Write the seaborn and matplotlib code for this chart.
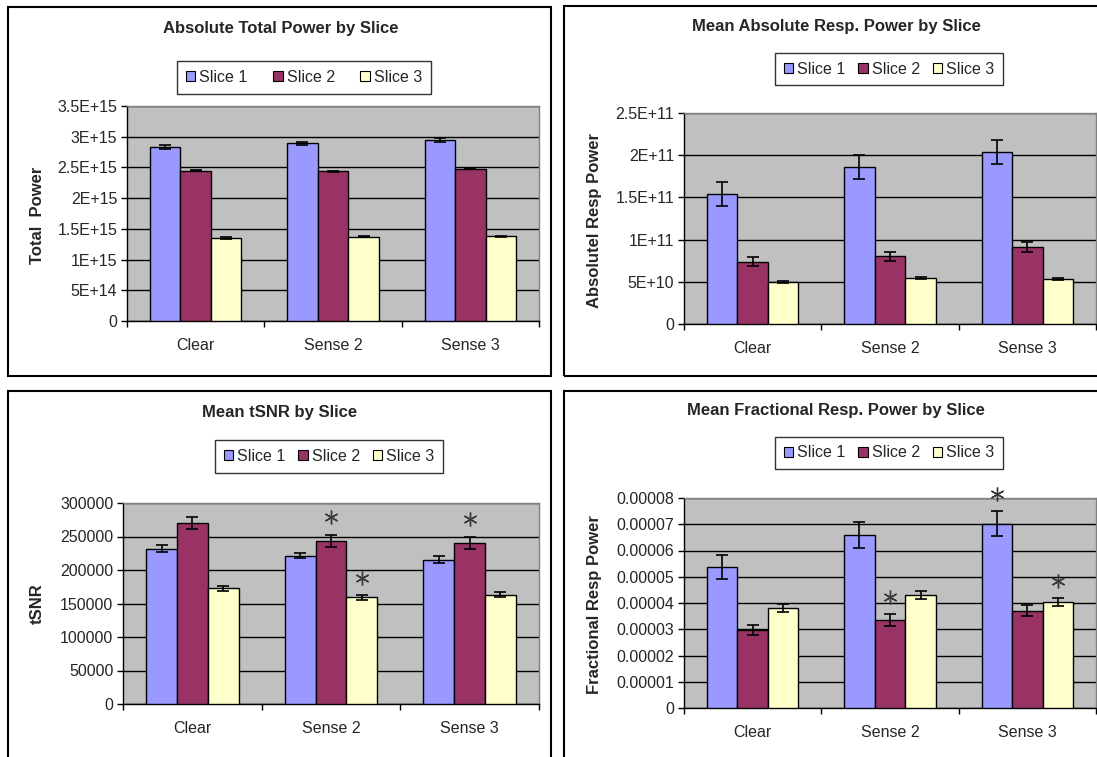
import matplotlib
matplotlib.use("Agg")
import matplotlib.pyplot as plt
import matplotlib.transforms as mtransforms
from matplotlib.container import BarContainer
from matplotlib.patches import Patch, Rectangle
import numpy as np
import pandas as pd
import seaborn as sns

# ---- data -------------------------------------------------------------
conditions = ["Clear", "Sense 2", "Sense 3"]
slices = ["Slice 1", "Slice 2", "Slice 3"]

# Absolute total power (rows: slice, cols: condition)
total_mean = [[2.83e15, 2.89e15, 2.95e15],
              [2.45e15, 2.44e15, 2.48e15],
              [1.35e15, 1.37e15, 1.38e15]]
total_err = [[0.03e15, 0.03e15, 0.03e15],
             [0.01e15, 0.01e15, 0.01e15],
             [0.01e15, 0.01e15, 0.01e15]]

# Mean absolute respiratory power
abs_mean = [[1.54e11, 1.86e11, 2.04e11],
            [0.74e11, 0.80e11, 0.91e11],
            [0.50e11, 0.545e11, 0.53e11]]
abs_err = [[1.45e10, 1.45e10, 1.45e10],
           [0.5e10, 0.5e10, 0.57e10],
           [0.15e10, 0.12e10, 0.12e10]]

# Mean tSNR
tsnr_mean = [[231500, 221500, 215500],
             [269500, 243500, 241000],
             [173000, 159000, 163000]]
tsnr_err = [[5200, 3500, 4700],
            [9000, 9000, 9000],
            [3700, 3500, 3500]]

# Mean fractional respiratory power
frac_mean = [[5.37e-5, 6.58e-5, 7.02e-5],
             [2.98e-5, 3.36e-5, 3.71e-5],
             [3.81e-5, 4.29e-5, 4.04e-5]]
frac_err = [[0.46e-5, 0.50e-5, 0.48e-5],
            [0.20e-5, 0.22e-5, 0.22e-5],
            [0.15e-5, 0.15e-5, 0.15e-5]]

# significance marks: (condition index, slice index)
tsnr_marks = [(1, 1), (1, 2), (2, 1)]
frac_marks = [(1, 1), (2, 0), (2, 2)]

total_ticks = ["0", "5E+14", "1E+15", "1.5E+15", "2E+15", "2.5E+15", "3E+15", "3.5E+15"]
abs_ticks = ["0", "5E+10", "1E+11", "1.5E+11", "2E+11", "2.5E+11"]
tsnr_ticks = ["0", "50000", "100000", "150000", "200000", "250000", "300000"]
frac_ticks = ["0", "0.00001", "0.00002", "0.00003", "0.00004", "0.00005",
              "0.00006", "0.00007", "0.00008"]

# ---- style ------------------------------------------------------------
sns.set_style("white")
plt.rcParams["font.family"] = ["Liberation Sans", "DejaVu Sans"]

palette = ["#9999FF", "#993366", "#FFFFCC"]
W, H = 1097, 757
fig = plt.figure(figsize=(W / 100, H / 100), dpi=100)
fig.patch.set_facecolor("white")


def fx(px):
    return px / W


def fy(py):
    return 1 - py / H


def long_frame(means):
    rows = []
    for si, s in enumerate(slices):
        for ci, c in enumerate(conditions):
            rows.append({"condition": c, "slice": s, "value": means[si][ci]})
    return pd.DataFrame(rows)


def panel(box, plot, title, title_xy, ylabel, ylabel_xy, legend_xy, colspace,
          means, errs, ymax, step, ticklabels, marks=None):
    # chart frame
    bx0, by0, bx1, by1 = box
    fig.patches.append(Rectangle((fx(bx0), fy(by1)), fx(bx1 - bx0), (by1 - by0) / H,
                                 transform=fig.transFigure, fill=False,
                                 edgecolor="black", linewidth=1.5, zorder=0))
    l, t, r, b = plot
    ax = fig.add_axes([fx(l), fy(b), fx(r - l), (b - t) / H])
    ax.set_facecolor("#C0C0C0")

    df = long_frame(means)
    sns.barplot(data=df, x="condition", y="value", hue="slice", palette=palette,
                width=0.667, edgecolor="black", linewidth=1.0, errorbar=None,
                saturation=1, legend=False, ax=ax, zorder=3)

    bar_groups = [c for c in ax.containers if isinstance(c, BarContainer)]
    centers = [[bar.get_x() + bar.get_width() / 2 for bar in cont] for cont in bar_groups]

    for si in range(len(slices)):
        for ci in range(len(conditions)):
            ax.errorbar(centers[si][ci], means[si][ci], yerr=errs[si][ci], fmt="none",
                        ecolor="black", elinewidth=1.2, capsize=4.5,
                        capthick=1.2, zorder=4)

    if marks:
        lift = ax.transData + mtransforms.ScaledTranslation(0, 12.5 / 72,
                                                            fig.dpi_scale_trans)
        for ci, si in marks:
            top = means[si][ci] + errs[si][ci]
            ax.plot([centers[si][ci]], [top], linestyle="none", marker=(6, 2, 0),
                    markersize=10, markeredgewidth=1.0, color="#3a3a3a",
                    zorder=5, clip_on=False, transform=lift)

    ax.set_xlim(-0.5, 2.5)
    ax.set_ylim(0, ymax)
    yt = np.arange(0, ymax + step / 2, step)
    ax.set_yticks(yt)
    ax.set_yticklabels(ticklabels)
    ax.yaxis.grid(True, color="black", linewidth=1.0)
    ax.set_axisbelow(True)
    ax.set_xlabel("")
    ax.set_ylabel("")

    ax.set_xticks([0, 1, 2])
    ax.set_xticklabels(conditions)
    ax.set_xticks([-0.5, 0.5, 1.5, 2.5], minor=True)
    ax.tick_params(axis="x", which="major", length=0, pad=12, labelsize=11.5)
    ax.tick_params(axis="x", which="minor", length=4, width=1, color="black",
                   direction="out", bottom=True)
    ax.tick_params(axis="y", length=4, width=1, color="black", direction="out",
                   pad=3, labelsize=11.5, left=True)

    for side in ("left", "bottom"):
        ax.spines[side].set_color("black")
        ax.spines[side].set_linewidth(1.0)
    for side in ("top", "right"):
        ax.spines[side].set_visible(True)
        ax.spines[side].set_color("#808080")
        ax.spines[side].set_linewidth(1.0)

    fig.text(fx(title_xy[0]), fy(title_xy[1]), title, ha="center", va="center",
             fontsize=12, fontweight="bold")
    fig.text(fx(ylabel_xy[0]), fy(ylabel_xy[1]), ylabel, ha="center", va="center",
             rotation=90, fontsize=12, fontweight="bold")

    handles = [Patch(facecolor=c, edgecolor="black", linewidth=0.8) for c in palette]
    leg = fig.legend(handles, slices, loc="center",
                     bbox_to_anchor=(fx(legend_xy[0]), fy(legend_xy[1])),
                     ncol=3, fontsize=11.5, frameon=True, fancybox=False,
                     handlelength=0.6, handleheight=0.6, handletextpad=0.25,
                     columnspacing=colspace, borderpad=0.55, borderaxespad=0)
    leg.get_frame().set_edgecolor("black")
    leg.get_frame().set_linewidth(1.0)
    return ax


panel((8, 7, 551, 376), (127, 106, 539, 321), "Absolute Total Power by Slice",
      (281, 28), "Total  Power", (37, 215), (304, 77.5), 1.6,
      total_mean, total_err, 3.5e15, 0.5e15, total_ticks)

panel((564, 6, 1125, 376), (684, 113, 1096, 324), "Mean Absolute Resp. Power by Slice",
      (836, 27), "Absolutel Resp Power", (594, 221), (889, 69), 0.8,
      abs_mean, abs_err, 2.5e11, 0.5e11, abs_ticks)

panel((8, 391, 551, 775), (123, 503, 539, 704), "Mean tSNR by Slice",
      (280, 412), "tSNR", (37, 604), (329, 456.5), 0.8,
      tsnr_mean, tsnr_err, 300000, 50000, tsnr_ticks, marks=tsnr_marks)

panel((564, 391, 1125, 775), (684, 498, 1096, 708), "Mean Fractional Resp. Power by Slice",
      (836, 411), "Fractional Resp Power", (594, 605), (889, 453), 0.8,
      frac_mean, frac_err, 0.00008, 0.00001, frac_ticks, marks=frac_marks)

fig.savefig("out.png", dpi=100)
